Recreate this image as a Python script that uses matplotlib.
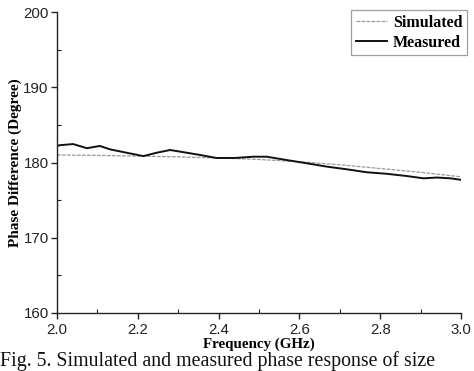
import matplotlib
matplotlib.use("Agg")
import matplotlib.pyplot as plt
from matplotlib.ticker import MultipleLocator

sim_freq = [2.0, 2.1, 2.2, 2.3, 2.4, 2.5, 2.6, 2.7, 2.8, 2.9, 3.0]
sim_phase = [181.0, 180.95, 180.85, 180.75, 180.6, 180.4, 180.1, 179.7, 179.2, 178.7, 178.1]

meas_freq = [2.0, 2.007, 2.04, 2.074, 2.106, 2.131, 2.172, 2.214, 2.247, 2.28, 2.321, 2.354,
             2.395, 2.44, 2.486, 2.519, 2.568, 2.618, 2.668, 2.717, 2.767, 2.816, 2.866,
             2.907, 2.94, 2.973, 3.0]
meas_phase = [182.2, 182.3, 182.45, 181.9, 182.2, 181.75, 181.3, 180.85, 181.3, 181.66, 181.3, 181.0,
              180.6, 180.6, 180.77, 180.77, 180.33, 179.9, 179.45, 179.1, 178.7, 178.5, 178.2,
              177.9, 178.0, 177.9, 177.7]

x_ticks = [2.0, 2.2, 2.4, 2.6, 2.8, 3.0]
x_ticklabels = ["2.0", "2.2", "2.4", "2.6", "2.8", "3.0"]
y_ticks = [160, 170, 180, 190, 200]

serif = ["Liberation Serif", "DejaVu Serif"]
sans = ["Liberation Sans", "DejaVu Sans"]

W, H = 474, 371
fig = plt.figure(figsize=(W / 100, H / 100), dpi=100)
ax = fig.add_axes([57 / W, 1 - 313 / H, 404 / W, 301 / H])

ax.plot(sim_freq, sim_phase, color="#9a9a9a", lw=0.9, ls=(0, (3, 1)), label="Simulated")
ax.plot(meas_freq, meas_phase, color="#111111", lw=1.4, label="Measured")

ax.set_xlim(2.0, 3.0)
ax.set_ylim(160, 200)
ax.set_xticks(x_ticks)
ax.set_xticklabels(x_ticklabels)
ax.set_yticks(y_ticks)
ax.xaxis.set_minor_locator(MultipleLocator(0.1))
ax.yaxis.set_minor_locator(MultipleLocator(5))

for s in ["top", "right"]:
    ax.spines[s].set_visible(False)
for s in ["left", "bottom"]:
    ax.spines[s].set_linewidth(1.0)
    ax.spines[s].set_color("#222222")

ax.tick_params(which="major", direction="out", length=4, width=1.0, color="#222222",
               labelsize=10.8, pad=2)
ax.tick_params(axis="x", which="major", pad=3)
ax.tick_params(which="minor", direction="in", length=3, width=0.8, color="#222222")
for lbl in ax.get_xticklabels() + ax.get_yticklabels():
    lbl.set_family(sans)
    lbl.set_color("#222222")

ax.set_ylabel("Phase Difference (Degree)", family=serif, fontweight="bold", fontsize=11, labelpad=1)
ax.set_xlabel("Frequency (GHz)", family=serif, fontweight="bold", fontsize=10.8)

leg = ax.legend(loc="upper right", bbox_to_anchor=(1.015, 1.007),
                prop={"family": serif, "weight": "bold", "size": 11.5},
                frameon=True, fancybox=False, edgecolor="#888888", handlelength=1.95,
                handletextpad=0.35, borderpad=0.3, labelspacing=0.25, borderaxespad=0.0)
leg.get_frame().set_linewidth(0.9)

# stack x label and caption snugly under the tick labels
fig.canvas.draw()
r = fig.canvas.get_renderer()
tick_bottom = min(t.get_window_extent(r).y0 for t in ax.get_xticklabels())
ax_h = ax.get_window_extent(r).height
ax_y0 = ax.get_window_extent(r).y0
ax.xaxis.set_label_coords(0.5, (tick_bottom - 0.5 - ax_y0) / ax_h)
ax.xaxis.label.set_va("top")
fig.canvas.draw()
xl_bottom = ax.xaxis.label.get_window_extent(r).y0

fig.text(0.0, (xl_bottom - 0.5) / H, "Fig. 5. Simulated and measured phase response of size",
         family=serif, fontsize=14.3, va="top", ha="left", color="#111111")

fig.savefig("out.png", dpi=100)
